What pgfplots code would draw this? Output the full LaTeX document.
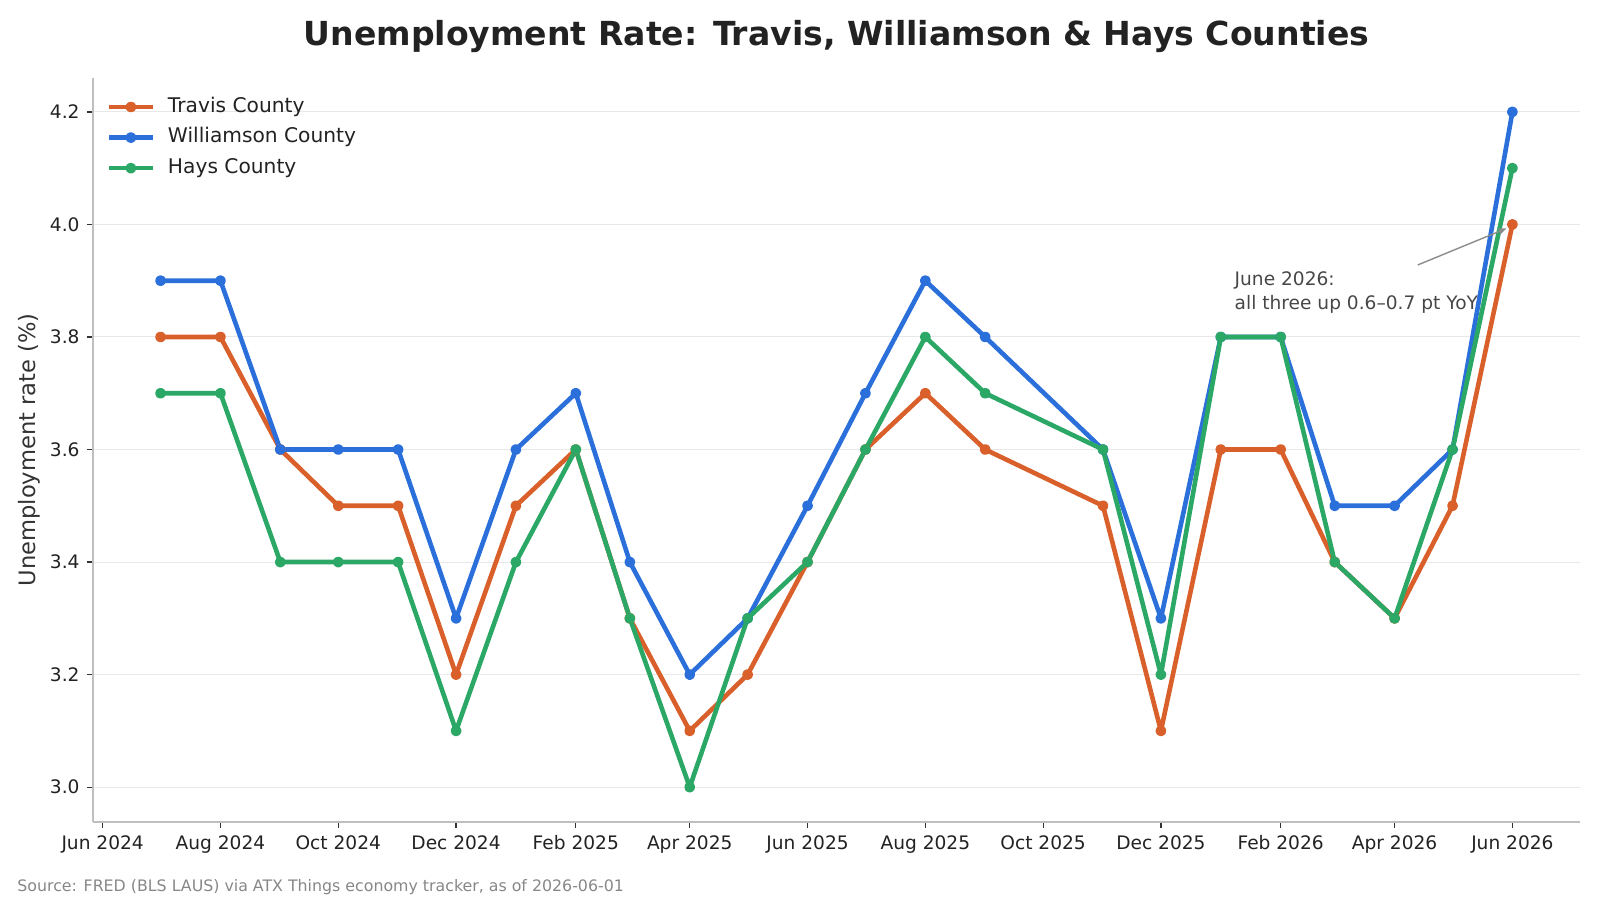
\documentclass[border=0pt]{standalone}
\usepackage{fontspec}
\setmainfont{DejaVu Sans}
\usepackage{pgfplots}
\usepackage{pgfplotstable}
\pgfplotsset{compat=1.18}
\usetikzlibrary{arrows.meta}
\definecolor{travis}{HTML}{D95F2B}
\definecolor{will}{HTML}{2B6FDB}
\definecolor{hays}{HTML}{2BA866}
\definecolor{txt}{HTML}{222222}

% x = days since 1 Jun 2024 (first day of each month)
\pgfplotstableread{
day travis williamson hays
30  3.8 3.9 3.7
61  3.8 3.9 3.7
92  3.6 3.6 3.4
122 3.5 3.6 3.4
153 3.5 3.6 3.4
183 3.2 3.3 3.1
214 3.5 3.6 3.4
245 3.6 3.7 3.6
273 3.3 3.4 3.3
304 3.1 3.2 3.0
334 3.2 3.3 3.3
365 3.4 3.5 3.4
395 3.6 3.7 3.6
426 3.7 3.9 3.8
457 3.6 3.8 3.7
518 3.5 3.6 3.6
548 3.1 3.3 3.2
579 3.6 3.8 3.8
610 3.6 3.8 3.8
638 3.4 3.5 3.4
669 3.3 3.5 3.3
699 3.5 3.6 3.6
730 4.0 4.2 4.1
}\data

\begin{document}
\begin{tikzpicture}
\path[use as bounding box] (-46.5bp,-39bp) rectangle (753.5bp,411bp);
\begin{axis}[
  scale only axis,
  width=743.5bp, height=372.2bp,
  xmin=-5, xmax=765, ymin=2.938, ymax=4.261,
  axis x line*=bottom, axis y line*=left,
  axis line style={-, color=black!25, line width=0.6bp},
  tick align=outside, tick pos=left,
  major tick length=3.2bp,
  tick style={color=black!80, line width=0.6bp},
  xtick={0,61,122,183,245,304,365,426,487,548,610,669,730},
  xticklabels={Jun 2024,Aug 2024,Oct 2024,Dec 2024,Feb 2025,Apr 2025,Jun 2025,Aug 2025,Oct 2025,Dec 2025,Feb 2026,Apr 2026,Jun 2026},
  ytick={3.0,3.2,3.4,3.6,3.8,4.0,4.2},
  yticklabels={3.0,3.2,3.4,3.6,3.8,4.0,4.2},
  ticklabel style={font=\fontsize{9.3bp}{11bp}\selectfont, text=txt},
  ymajorgrids,
  major grid style={color=black!9, line width=0.5bp},
  legend style={at={(axis description cs:0,1)}, anchor=north west,
    xshift=6.6bp, yshift=-9.6bp, draw=none, fill=none,
    inner xsep=0pt, inner ysep=0pt,
    font=\fontsize{10.1bp}{12bp}\selectfont, text=txt,
    row sep=5.5bp, column sep=6.4bp,
    nodes={inner sep=0pt, text height=7.6bp, text depth=2.2bp}},
  legend cell align=left,
  legend image code/.code={\draw[mark repeat=2,mark phase=2,#1] plot coordinates {(0bp,0bp) (11bp,0bp) (22bp,0bp)};},
  every axis plot/.append style={line width=2.3bp, line join=round, mark=*, mark size=1.55bp, mark options={solid, line width=0.4bp}},
]
\addplot[color=travis, mark options={fill=travis}] table[x=day, y=travis] {\data};
\addlegendentry{Travis County}
\addplot[color=will, mark options={fill=will}] table[x=day, y=williamson] {\data};
\addlegendentry{Williamson County}
\addplot[color=hays, mark options={fill=hays}] table[x=day, y=hays] {\data};
\addlegendentry{Hays County}

\draw[-{Stealth[length=4.5bp,width=3.5bp]}, color=black!45, line width=0.7bp] (axis cs:681,3.928) -- (axis cs:727,3.993);
\node[anchor=north west, inner sep=0pt, align=left, text=black!72, font=\fontsize{9.3bp}{11.8bp}\selectfont] at (axis cs:586,3.916) {June 2026:\\all three up 0.6–0.7 pt YoY};
\end{axis}
\node[font=\fontsize{16.55bp}{20bp}\selectfont\bfseries, text=txt] at (371.75bp,392.8bp) {Unemployment Rate: Travis, Williamson \& Hays Counties};
\node[rotate=90, font=\fontsize{11.3bp}{13bp}\selectfont, text=black!80] at (-31.7bp,186.1bp) {Unemployment rate (\%)};
\node[anchor=west, inner sep=0pt, font=\fontsize{7.9bp}{10bp}\selectfont, text=black!47] at (-38bp,-32.8bp) {Source: FRED (BLS LAUS) via ATX Things economy tracker, as of 2026-06-01};
\end{tikzpicture}
\end{document}
